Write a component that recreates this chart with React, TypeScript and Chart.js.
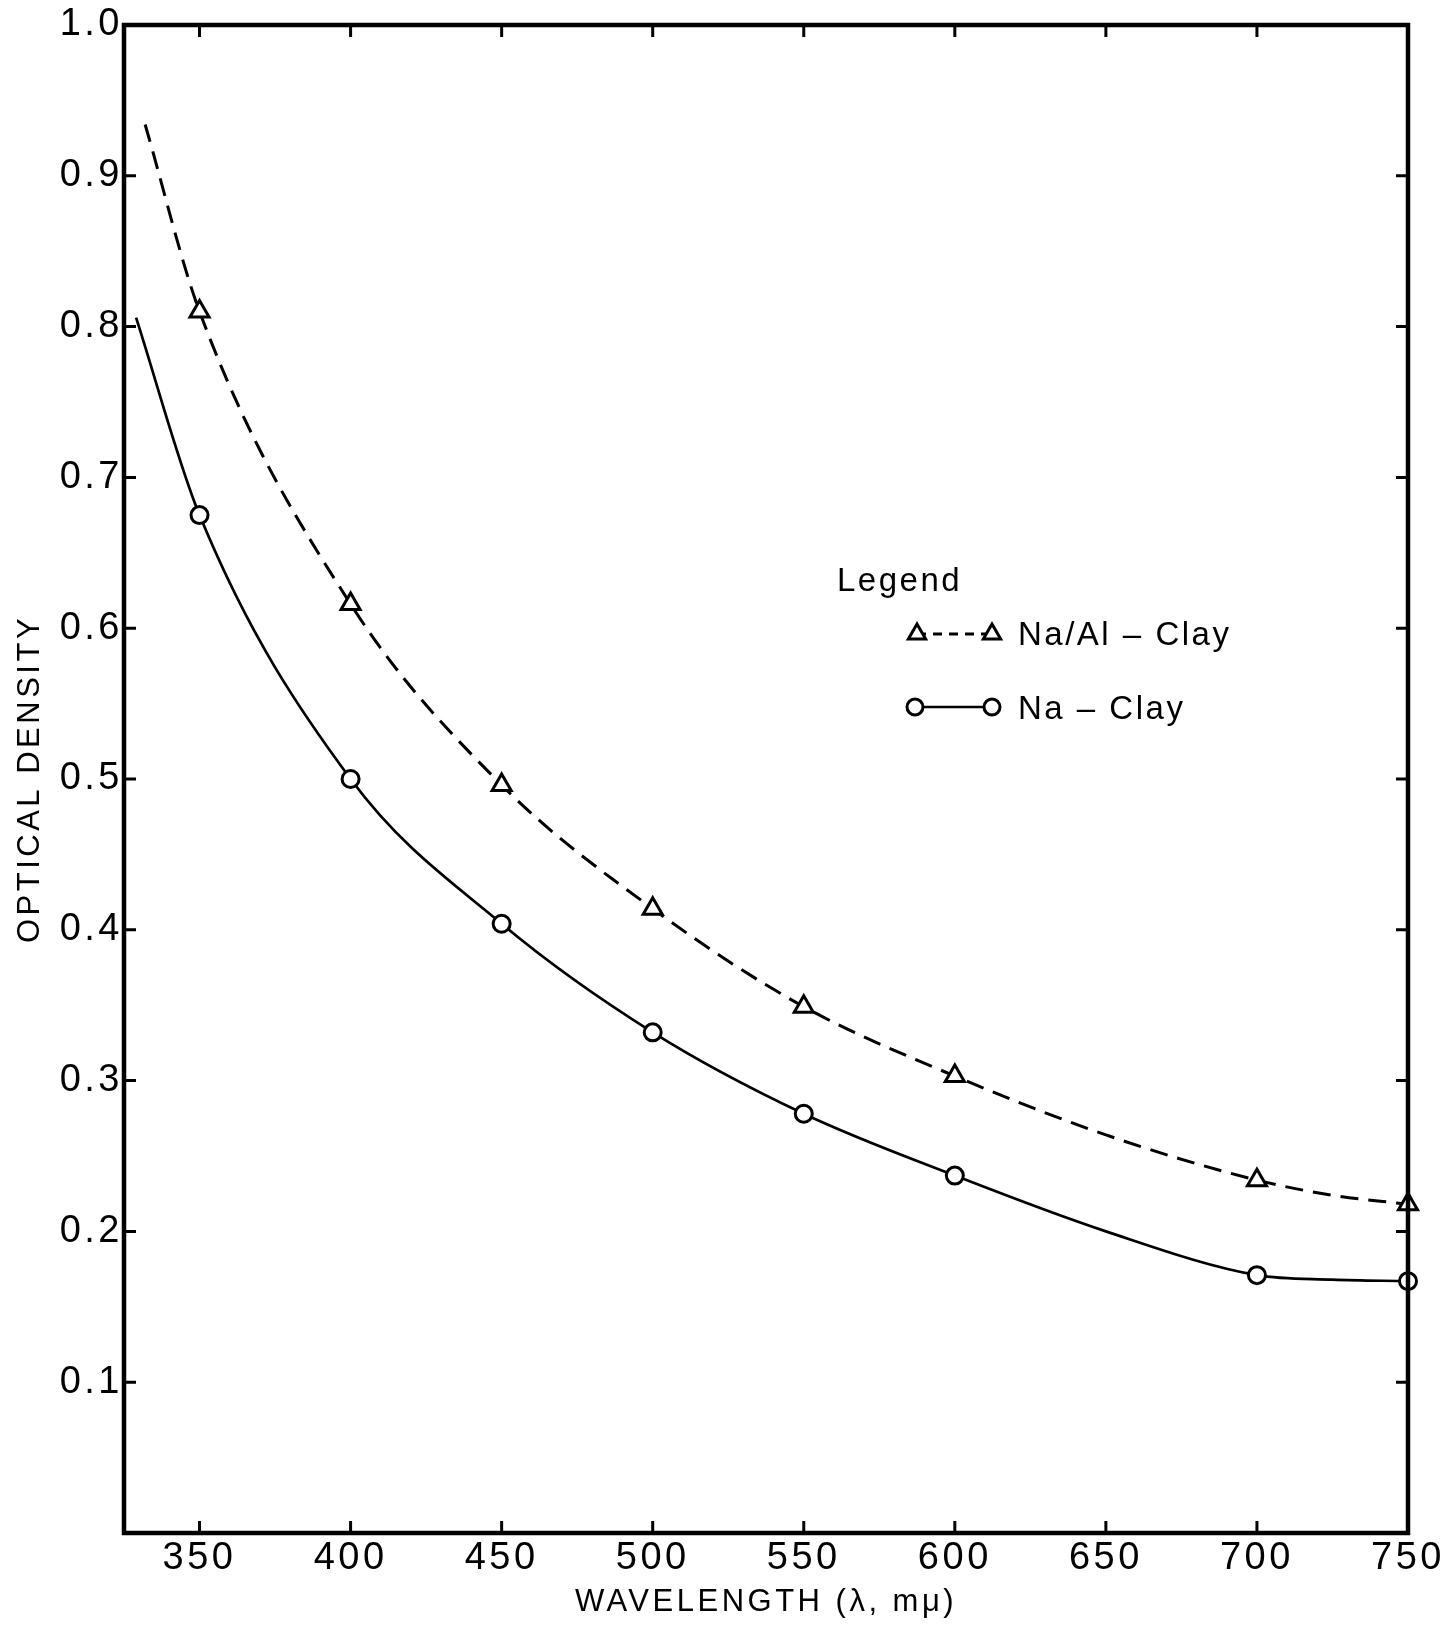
import React, { useEffect, useRef } from 'react';
import { Chart, registerables } from 'chart.js';

Chart.register(...registerables);

// ---- data ----
// measured points (drawn with markers)
const wavelengths = [350, 400, 450, 500, 550, 600, 700, 750];
const naAlClay = [0.81, 0.616, 0.496, 0.414, 0.349, 0.303, 0.234, 0.218];
const naClay = [0.675, 0.5, 0.404, 0.332, 0.278, 0.237, 0.171, 0.167];
// further positions (no marker there)
const curveOnlyWavelengthsNaAl = [332, 650, 725];
const naAlCurveOnly = [0.934, 0.264, 0.224];
const curveOnlyWavelengthsNa = [329, 650, 725];
const naClayCurveOnly = [0.806, 0.2, 0.168];

const xTicks = [350, 400, 450, 500, 550, 600, 650, 700, 750];
const yTicks = [0, 0.1, 0.2, 0.3, 0.4, 0.5, 0.6, 0.7, 0.8, 0.9, 1.0];

const seriesLabels = ['Na/Al \u2013 Clay', 'Na \u2013 Clay'];
const legendTitle = 'Legend';
const xTitle = 'WAVELENGTH (\u03bb, m\u03bc)';
const yTitle = 'OPTICAL DENSITY';

const FONT = '"Liberation Sans", Arial, sans-serif';

function buildSeries(markX: number[], markY: number[], curveX: number[], curveY: number[]) {
  const pts = [
    ...markX.map((x, i) => ({ x, y: markY[i], marker: true })),
    ...curveX.map((x, i) => ({ x, y: curveY[i], marker: false })),
  ].sort((a, b) => a.x - b.x);
  return pts;
}

function drawTriangle(ctx: CanvasRenderingContext2D, x: number, y: number, r: number) {
  ctx.beginPath();
  ctx.moveTo(x, y - r);
  ctx.lineTo(x + Math.sin(Math.PI / 3) * r, y + r / 2);
  ctx.lineTo(x - Math.sin(Math.PI / 3) * r, y + r / 2);
  ctx.closePath();
  ctx.fillStyle = '#fff';
  ctx.fill();
  ctx.stroke();
}

function drawCircle(ctx: CanvasRenderingContext2D, x: number, y: number, r: number) {
  ctx.beginPath();
  ctx.arc(x, y, r, 0, Math.PI * 2);
  ctx.fillStyle = '#fff';
  ctx.fill();
  ctx.stroke();
}

const spacingPlugin = {
  id: 'spacing',
  beforeDraw(chart: any) {
    (chart.ctx as any).letterSpacing = '3.5px';
  },
};

const framePlugin = {
  id: 'frame',
  afterDatasetsDraw(chart: any) {
    const { ctx, chartArea } = chart;
    const { left, right, top, bottom } = chartArea;
    const xs = chart.scales.x;
    const ys = chart.scales.y;
    ctx.save();
    ctx.strokeStyle = '#000';
    ctx.lineWidth = 4.5;
    ctx.strokeRect(left, top, right - left, bottom - top);
    ctx.lineWidth = 3;
    const tl = 12;
    ctx.beginPath();
    xTicks.forEach((v) => {
      const px = xs.getPixelForValue(v);
      ctx.moveTo(px, bottom);
      ctx.lineTo(px, bottom - tl);
      ctx.moveTo(px, top);
      ctx.lineTo(px, top + tl);
    });
    yTicks.forEach((v) => {
      const py = ys.getPixelForValue(v);
      ctx.moveTo(left, py);
      ctx.lineTo(left + tl, py);
      ctx.moveTo(right, py);
      ctx.lineTo(right - tl, py);
    });
    ctx.stroke();
    ctx.restore();
  },
};

const legendPlugin = {
  id: 'customLegend',
  afterDraw(chart: any) {
    const ctx: CanvasRenderingContext2D = chart.ctx;
    ctx.save();
    (ctx as any).letterSpacing = '2.5px';
    ctx.fillStyle = '#000';
    ctx.strokeStyle = '#000';
    ctx.font = `33px ${FONT}`;
    ctx.textAlign = 'left';
    ctx.textBaseline = 'alphabetic';
    ctx.fillText(legendTitle, 837, 591);
    ctx.fillText(seriesLabels[0], 1018, 645);
    ctx.fillText(seriesLabels[1], 1018, 719);

    // dashed sample
    ctx.lineWidth = 3;
    ctx.setLineDash([9, 7]);
    ctx.beginPath();
    ctx.moveTo(917, 634);
    ctx.lineTo(992, 634);
    ctx.stroke();
    ctx.setLineDash([]);
    ctx.lineWidth = 3;
    drawTriangle(ctx, 917, 634, 10);
    drawTriangle(ctx, 992, 634, 10);

    // solid sample
    ctx.lineWidth = 2.5;
    ctx.beginPath();
    ctx.moveTo(915, 707);
    ctx.lineTo(992, 707);
    ctx.stroke();
    ctx.lineWidth = 3;
    drawCircle(ctx, 915, 707, 8);
    drawCircle(ctx, 992, 707, 8);
    ctx.restore();
  },
};

export default function App() {
  const ref = useRef<HTMLCanvasElement | null>(null);

  useEffect(() => {
    if (!ref.current) return;
    const naAlData = buildSeries(wavelengths, naAlClay, curveOnlyWavelengthsNaAl, naAlCurveOnly);
    const naData = buildSeries(wavelengths, naClay, curveOnlyWavelengthsNa, naClayCurveOnly);
    const chart = new Chart(ref.current, {
      type: 'line',
      data: {
        datasets: [
          {
            label: seriesLabels[0],
            data: naAlData,
            borderColor: '#000',
            borderWidth: 3,
            borderDash: [18, 10],
            cubicInterpolationMode: 'monotone',
            pointStyle: 'triangle',
            pointRadius: naAlData.map((p) => (p.marker ? 11 : 0)),
            pointBorderWidth: 3,
            pointBackgroundColor: '#fff',
            pointBorderColor: '#000',
            fill: false,
            clip: false as any,
          },
          {
            label: seriesLabels[1],
            data: naData,
            borderColor: '#000',
            borderWidth: 2.7,
            cubicInterpolationMode: 'monotone',
            pointStyle: 'circle',
            pointRadius: naData.map((p) => (p.marker ? 8.5 : 0)),
            pointBorderWidth: 3,
            pointBackgroundColor: '#fff',
            pointBorderColor: '#000',
            fill: false,
            clip: false as any,
          },
        ],
      },
      options: {
        responsive: false,
        animation: false,
        devicePixelRatio: 1,
        layout: { padding: { top: 25, right: 42, left: 0, bottom: 0 } },
        plugins: {
          legend: { display: false },
          tooltip: { enabled: false },
        },
        scales: {
          x: {
            type: 'linear',
            min: 325,
            max: 750,
            afterBuildTicks: (s: any) => {
              s.ticks = xTicks.map((v) => ({ value: v }));
            },
            afterFit: (s: any) => {
              s.height = 97;
            },
            grid: { display: false, drawTicks: false },
            border: { display: false },
            ticks: {
              color: '#000',
              font: { family: FONT, size: 38 },
              padding: 3,
              maxRotation: 0,
              autoSkip: false,
              callback: (v: any) => String(v),
            },
            title: {
              display: true,
              text: xTitle,
              color: '#000',
              font: { family: FONT, size: 31 },
              padding: { top: 0, bottom: 9 },
            },
          },
          y: {
            type: 'linear',
            min: 0,
            max: 1,
            afterBuildTicks: (s: any) => {
              s.ticks = yTicks.map((v) => ({ value: v }));
            },
            afterFit: (s: any) => {
              s.width = 124;
            },
            grid: { display: false, drawTicks: false },
            border: { display: false },
            ticks: {
              color: '#000',
              font: { family: FONT, size: 38 },
              padding: 1,
              autoSkip: false,
              callback: (v: any) => (Number(v) === 0 ? '' : Number(v).toFixed(1)),
            },
            title: {
              display: true,
              text: yTitle,
              color: '#000',
              font: { family: FONT, size: 31 },
              padding: { top: 12, bottom: 0 },
            },
          },
        },
      } as any,
      plugins: [spacingPlugin, framePlugin, legendPlugin],
    });
    return () => chart.destroy();
  }, []);

  return (
    <div style={{ position: 'absolute', left: 0, top: 0, width: 1450, height: 1630, background: '#fff' }}>
      <canvas ref={ref} width={1450} height={1630} style={{ display: 'block' }} />
    </div>
  );
}
